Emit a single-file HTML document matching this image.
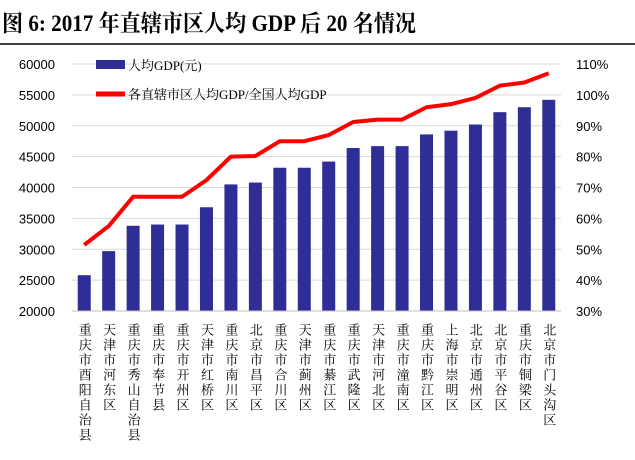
<!DOCTYPE html>
<html><head><meta charset="utf-8"><style>
body{margin:0;background:#fff;width:635px;height:455px;overflow:hidden;font-family:"Liberation Serif","Noto Serif CJK SC",serif}
svg text{font-family:"Liberation Sans","Noto Sans CJK SC",sans-serif}
</style></head><body>
<svg width="635" height="455">
<text x="2" y="31" font-size="23" font-weight="bold" textLength="414" lengthAdjust="spacingAndGlyphs" style="font-family:'Liberation Serif','Noto Serif CJK SC',serif">图 6:  2017 年直辖市区人均 GDP 后 20 名情况</text>
<line x1="0" y1="44" x2="635" y2="44" stroke="#000" stroke-width="1.5"/>
<g id="grid"></g><g id="bars"></g><g id="line"></g><g id="axes"></g><g id="labels"></g>
<g>
<rect x="96" y="60" width="29" height="9" fill="#2e2e96"/>
<text x="128" y="70" font-size="13" style="font-family:'Liberation Serif','Noto Serif CJK SC',serif">人均GDP(元)</text>
<line x1="96" y1="94" x2="125" y2="94" stroke="#f00" stroke-width="5"/>
<text x="128" y="99" font-size="13" style="font-family:'Liberation Serif','Noto Serif CJK SC',serif">各直辖市区人均GDP/全国人均GDP</text>
</g>
</svg>
<script>
const categories=["重庆市酉阳自治县","天津市河东区","重庆市秀山自治县","重庆市奉节县","重庆市开州区","天津市红桥区","重庆市南川区","北京市昌平区","重庆市合川区","天津市蓟州区","重庆市綦江区","重庆市武隆区","天津市河北区","重庆市潼南区","重庆市黔江区","上海市崇明区","北京市通州区","北京市平谷区","重庆市铜梁区","北京市门头沟区"];
const gdp=[25800,29700,33800,34000,34000,36800,40500,40800,43200,43200,44200,46400,46700,46700,48600,49200,50200,52200,53000,54200];
const ratio=[51.4,57.5,67,67,67,72.4,80,80.2,85,85,87,91.2,92,92,96,97,99,103,104,107];
const leftTicks=[20000,25000,30000,35000,40000,45000,50000,55000,60000];
const rightTicks=[30,40,50,60,70,80,90,100,110];
const NS="http://www.w3.org/2000/svg";
const x0=72,x1=561,yTop=64,yBot=311;
const bw=(x1-x0)/categories.length;
const yL=v=>yBot-(v-20000)/40000*(yBot-yTop);
const yR=v=>yBot-(v-30)/80*(yBot-yTop);
const xc=i=>x0+bw*(i+0.5);
function mk(t,a,p){const e=document.createElementNS(NS,t);for(const k in a)e.setAttribute(k,a[k]);p.appendChild(e);return e;}
const G=document.getElementById('grid'),B=document.getElementById('bars'),L=document.getElementById('line'),A=document.getElementById('axes'),T=document.getElementById('labels');
leftTicks.forEach(v=>{const g=mk('line',{x1:x0,x2:x1,y1:yL(v),y2:yL(v),stroke:'#d9d9d9'},G);


const t=mk('text',{x:55,y:yL(v)+5,'text-anchor':'end','font-size':13},A);t.textContent=v;

});
rightTicks.forEach(v=>{const t=mk('text',{x:576,y:yR(v)+5,'font-size':13},A);t.textContent=v+'%';

});
gdp.forEach((v,i)=>{const r=mk('rect',{x:xc(i)-6.5,y:yL(v),width:13,height:yBot-yL(v),fill:'#2e2e96'},B);


const t=mk('text',{x:xc(i),y:323,'font-size':13,style:"writing-mode:vertical-rl;font-family:'Liberation Serif','Noto Serif CJK SC',serif;letter-spacing:2px"},T);t.textContent=categories[i];

});
const ax=mk('line',{x1:x0,x2:x1,y1:yBot,y2:yBot,stroke:'#bfbfbf'},A);


const pl=mk('polyline',{points:ratio.map((v,i)=>xc(i)+','+yR(v)).join(' '),fill:'none',stroke:'#f00','stroke-width':4,'stroke-linejoin':'round'},L);


</script>
</body></html>
